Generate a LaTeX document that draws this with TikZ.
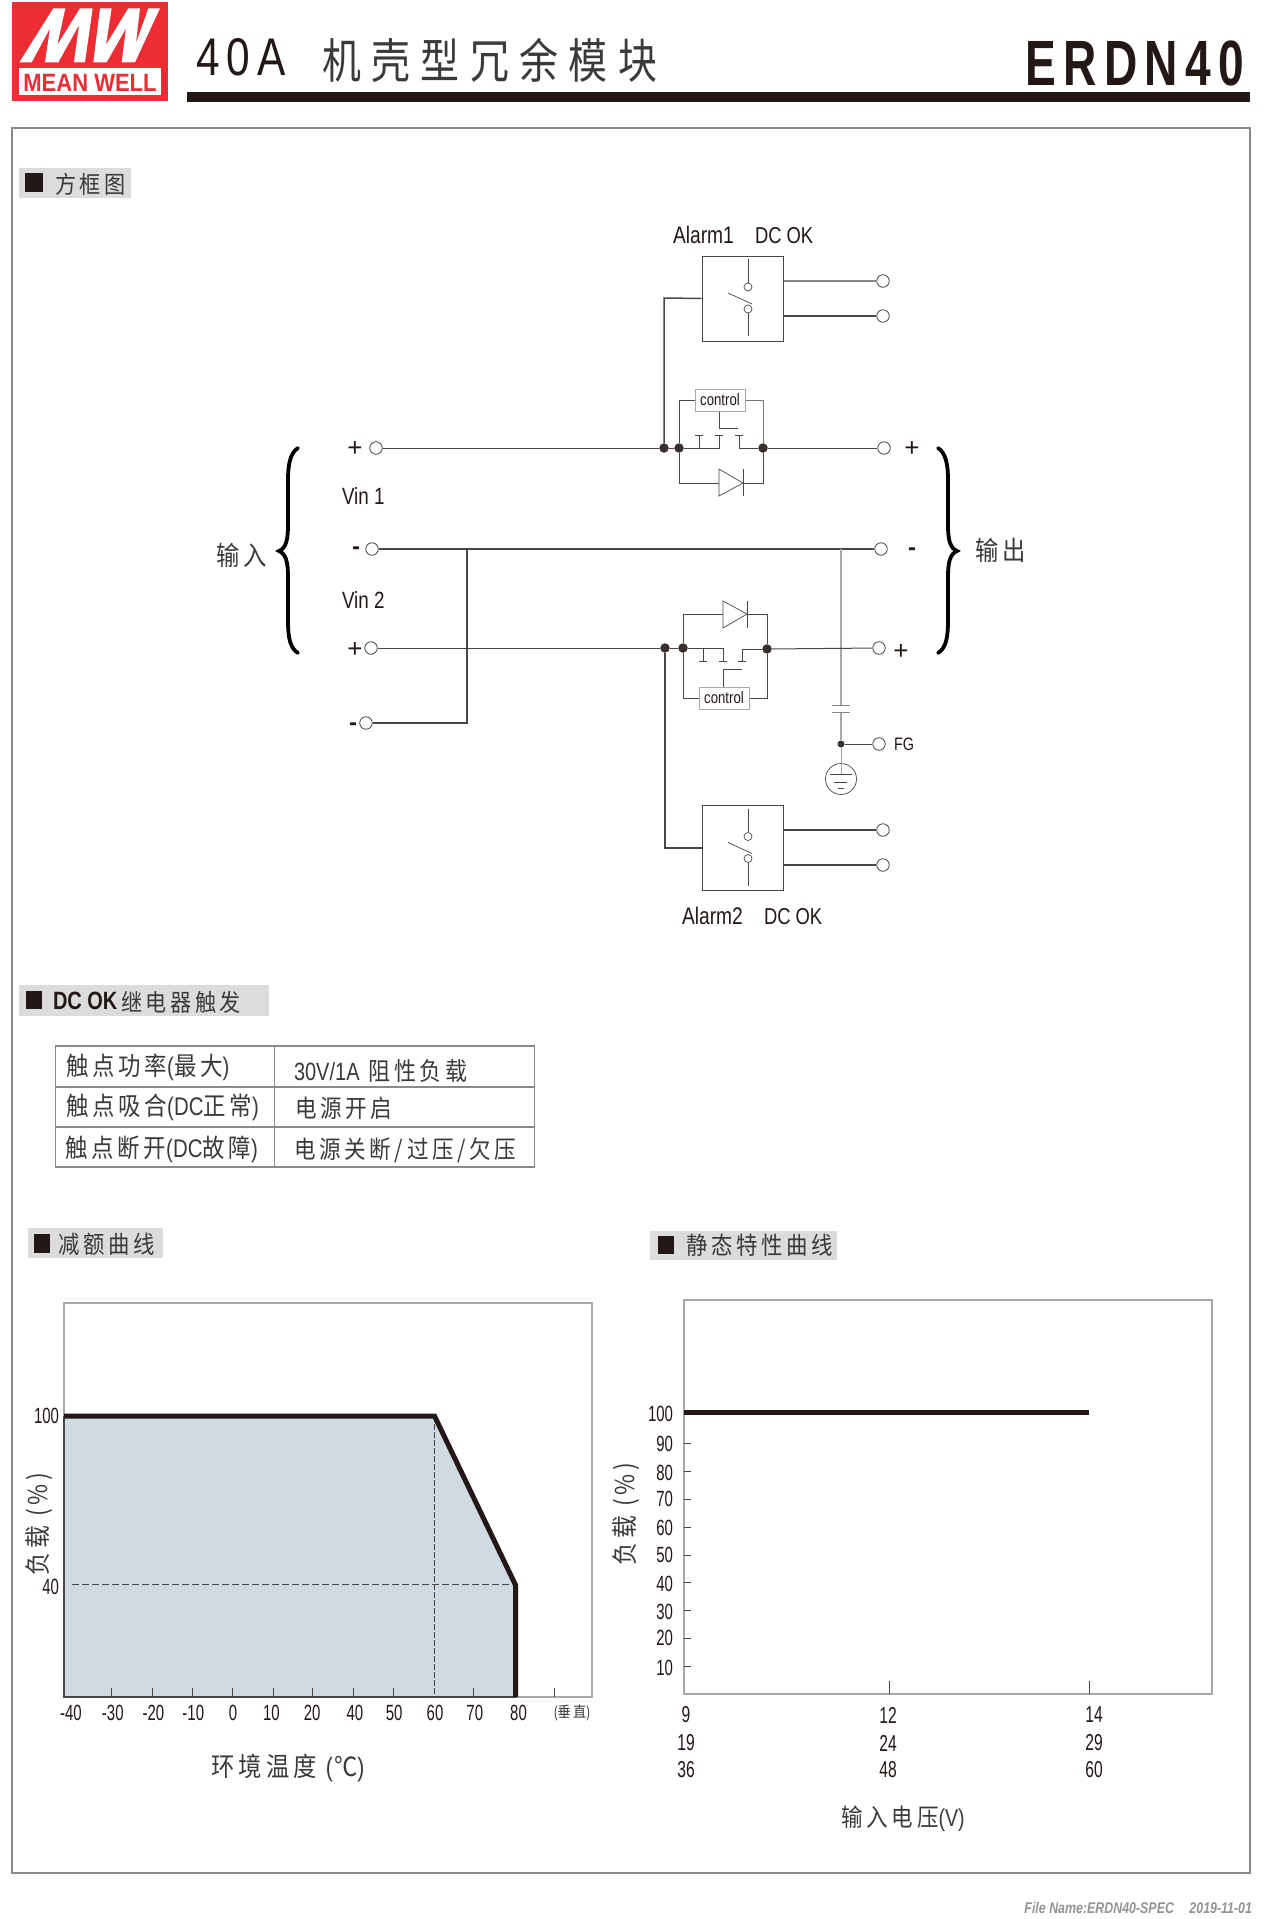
\documentclass[tikz,border=0pt]{standalone}
\usepackage{fontspec}
\setmainfont{Liberation Sans}
\newfontfamily\nar[FakeStretch=.8]{Liberation Sans}
\newfontfamily\logof[FakeStretch=.88]{Liberation Sans}
\newfontfamily\nard[FakeStretch=.68]{Liberation Sans}
\newfontfamily\erd[FakeStretch=.72,LetterSpace=11.5]{Liberation Sans}
\newfontfamily\fortyA[FakeStretch=.8,LetterSpace=14]{Liberation Sans}
\newfontfamily\cjkT[FakeStretch=.82,LetterSpace=22]{Noto Sans CJK SC}
\newfontfamily\cjkB[FakeStretch=.88,LetterSpace=15]{Noto Sans CJK SC}
\newcommand{\fs}[1]{\fontsize{#1}{#1}\selectfont}
\definecolor{wirec}{HTML}{4A4644}
\definecolor{lightw}{HTML}{A8A8A8}
\definecolor{framec}{HTML}{8A8A8A}
\definecolor{inkc}{HTML}{231815}
\definecolor{cjkc}{HTML}{3A3A3A}
\definecolor{mwred}{HTML}{EE2C34}
\definecolor{shadec}{HTML}{D0DAE2}
\definecolor{hdrbg}{HTML}{DCDCDC}
\tikzset{
 txt/.style={inner sep=0pt,outer sep=0pt,text=inkc},
 cj/.style={txt,text=cjkc},
 wire/.style={draw=wirec,line width=1pt},
 wireb/.style={draw=wirec,line width=1.5pt},
 wiregr/.style={draw=lightw,line width=1.4pt},
 term/.style={circle,draw=wirec,fill=white,line width=.8pt,inner sep=0pt,minimum size=12.5pt},
 dotj/.style={circle,fill=inkc!90!white,inner sep=0pt,minimum size=9.5pt},
 relbox/.style={draw=wirec,line width=1pt,minimum width=81pt,minimum height=85pt,inner sep=0pt,fill=white},
 ctrlbox/.style={draw=lightw,line width=1pt,minimum width=50pt,minimum height=22pt,inner sep=0pt,fill=white,text=inkc,font={\nar\fs{16.5}}},
 hdr/.style={fill=hdrbg},
 blk/.style={fill=inkc},
 brace/.style={draw=black,line width=3.8pt,line cap=round},
 thick line/.style={draw=inkc,line width=5pt},
 tick/.style={draw=wirec,line width=.7pt},
 dashln/.style={draw=wirec,line width=.7pt,dash pattern=on 7pt off 3pt},
 switchsym/.pic={
   \draw[wirec,line width=.7pt] (5.5,-39.5) -- (5.5,-16);
   \draw[wirec,line width=.7pt] (5.5,-11.5) circle[radius=4];
   \draw[wirec,line width=.7pt] (5.5,10.5) circle[radius=4];
   \draw[wirec,line width=.7pt] (-14.5,-5.5) -- (9.5,5.5);
   \draw[wirec,line width=.7pt] (5.5,14.5) -- (5.5,37.5);
 },
}
\begin{document}
\begin{tikzpicture}[x=1pt,y=-1pt]
\useasboundingbox (0,0) rectangle (1286,1919);
\fill[white] (0,0) rectangle (1286,1919);
% logo
\fill[mwred] (12,2) rectangle (168,101);
\fill[white] (19,68) rectangle (161,95);
\begin{scope}[x=.3333pt,y=-.3333pt]
\fill[white] (58,187)--(160,25)--(196,25)--(172,135)--(240,25)--(278,25)--(255,187)--(222,187)--(237,75)--(175,187)--(135,187)--(150,85)--(95,187)--cycle;
\fill[white] (300,25)--(335,25)--(318,135)--(385,25)--(420,25)--(408,130)--(445,25)--(480,25)--(405,187)--(365,187)--(378,85)--(320,187)--(280,187)--cycle;
\end{scope}
\node[txt,text=mwred,font={\logof\bfseries\fs{25}}] (logotext) at (90,82.5) {MEAN WELL};
% title
\node[txt,anchor=base west,font={\fortyA\fs{53}}] (t40a) at (196,76) {40A};
\node[cj,anchor=west,font={\cjkT\fs{47.5}}] (tcjk) at (322,60) {机壳型冗余模块};
\node[txt,anchor=base east,font={\erd\bfseries\fs{64}}] (terdn) at (1244,85) {ERDN40};
\fill[inkc] (187,92) rectangle (1250,102);
% frame
\draw[framec,line width=1.4pt] (12,128) rectangle (1250,1873);
% section header 1
\fill[hdr] (19,168) rectangle (131,198);
\fill[blk] (25,173) rectangle (43,192);
\node[cj,anchor=west,font={\cjkB\fs{24}}] (h1) at (55,184) {方框图};
% ---- circuit ----
\node[txt,anchor=base west,font={\nar\fs{24}}] (al1) at (673,243) {Alarm1};
\node[txt,anchor=base west,font={\nar\fs{23}}] (dc1) at (755,243) {DC OK};
\node[relbox] (rel1) at (742.5,298.5) {};
\pic at (742.5,298.5) {switchsym};
\node[term] (ta1) at (883,281) {};
\node[term] (ta2) at (883,316) {};
\draw[wire,draw=lightw!80!black,line width=1.3pt] (ta1.west) -- (ta1.west -| rel1.east);
\draw[wireb] (ta2.west) -- (ta2.west -| rel1.east);
% upper line
\node[term] (in1p) at (376,448) {};
\node[term] (out1p) at (884,448) {};
\node[dotj] (j1) at (664,448) {};
\node[dotj] (j2) at (679,448) {};
\node[dotj] (j3) at (763,448) {};
\draw[wire] (in1p) -- (j1) -- (j2);
\draw[wire] (j3) -- (out1p);
\coordinate (k1) at (664,298);
\draw[wireb] (j1) -- (k1) -- (rel1.west);
% upper contactor
\node[ctrlbox] (c1) at (720,400) {control};
\coordinate (c1l) at (679,400);
\coordinate (c1r) at (763,400);
\draw[wire] (j2) -- (c1l) -- (c1.west);
\draw[wire,draw=lightw!70!black] (c1.east) -- (c1r) -- (j3);
\coordinate (s1a) at (719,448);
\coordinate (s1b) at (739,448);
\draw[wire] (j2) -- (s1a) -- (719,435);
\draw[wire] (j3) -- (s1b) -- (739,435);
\draw[wire,line width=.8pt] (699,448) -- (699,435);
\draw[wire,line width=.8pt] (695,435) -- (703,435);
\draw[wire,line width=.8pt] (715,435) -- (723,435);
\draw[wire,line width=.8pt] (735,435) -- (743,435);
\draw[wire] (c1.south -| 719,0) -- (719,428);
\draw[wire] (719,428) -- (738,428);
% upper diode
\coordinate (d1a) at (719,483);
\coordinate (d1k) at (743,483);
\coordinate (d1l) at (679,483);
\coordinate (d1r) at (763,483);
\draw[wire] (j2) -- (d1l) -- (d1a);
\draw[wire] (d1k) -- (d1r) -- (j3);
\draw[wirec,line width=.7pt,fill=white] (719,469) -- (743,483) -- (719,496) -- cycle;
\draw[wirec,line width=.8pt] (743,469) -- (743,496);
\node[txt,font={\fs{26}}] (p1) at (912,449) {+};
% labels left
\node[txt,font={\fs{26}}] (pl1) at (355,449) {+};
\node[txt,anchor=base west,font={\nar\fs{23.5}}] (vin1) at (342,504) {Vin 1};
\node[term] (in1n) at (372,549) {};
\node[txt,font={\bfseries\fs{24}}] (ml1) at (356,551) {-};
\node[txt,anchor=base west,font={\nar\fs{23.5}}] (vin2) at (342,608) {Vin 2};
\node[term] (in2p) at (371,648) {};
\node[txt,font={\fs{26}}] (pl2) at (355,650) {+};
\node[term] (in2n) at (366,723) {};
\node[txt,font={\bfseries\fs{24}}] (ml2) at (353,727) {-};
\node[term] (out1n) at (881,549) {};
\node[txt,font={\bfseries\fs{24}}] (mr1) at (912,552) {-};
\draw[wireb] (in1n) -- (out1n);
\coordinate (n1) at (467,549);
\coordinate (n2) at (467,723);
\draw[wireb] (n1) -- (n2) -- (in2n);
% lower line
\node[term] (out2p) at (879,648) {};
\node[dotj] (j4) at (665,648) {};
\node[dotj] (j5) at (683,648) {};
\node[dotj] (j6) at (767,649) {};
\draw[wire] (in2p) -- (j4) -- (j5);
% FG branch
\node[dotj,minimum size=7pt] (jfg) at (841,744) {};
\node[term] (fg) at (879,744) {};
\coordinate (capa) at (841,705);
\coordinate (capb) at (841,712);
\coordinate (negt) at (841,549);
\draw[wiregr] (negt) -- (capa);
\draw[wiregr] (capb) -- (jfg);
\draw[lightw!80!black,line width=1pt] (832,705) -- (850,705);
\draw[lightw!80!black,line width=1pt] (832,712) -- (850,712);
\draw[wire] (jfg) -- (fg);
\draw[wire] (j6) -- (out2p);
\node[txt,font={\fs{26}}] (p2) at (901,652) {+};
\node[txt,anchor=west,font={\nar\fs{18}}] (fgt) at (894,744) {FG};
\node[circle,draw=wirec,line width=.7pt,inner sep=0pt,minimum size=31pt] (gnd) at (841,779) {};
\draw[wiregr,line width=1pt] (jfg) -- (841,774);
\draw[wirec,line width=.7pt] (830,774) -- (852,774);
\draw[wirec,line width=.7pt] (834,782) -- (847,782);
\draw[wirec,line width=.7pt] (838,788) -- (844,788);
% lower contactor
\node[ctrlbox] (c2) at (724,698) {control};
\coordinate (c2l) at (683,698);
\coordinate (c2r) at (767,698);
\draw[wire] (j5) -- (c2l) -- (c2.west);
\draw[wire] (c2.east) -- (c2r) -- (j6);
\coordinate (s2a) at (723,648);
\coordinate (s2b) at (742,649);
\draw[wire] (j5) -- (s2a) -- (723,661);
\draw[wire] (j6) -- (s2b) -- (742,661);
\draw[wire,line width=.8pt] (703,648) -- (703,661);
\draw[wire,line width=.8pt] (699,661) -- (707,661);
\draw[wire,line width=.8pt] (719,661) -- (727,661);
\draw[wire,line width=.8pt] (738,661) -- (746,661);
\draw[wire] (723,669) -- (742,669);
\draw[wire] (723,669) -- (723,687);
% lower diode
\coordinate (d2l) at (683,614);
\coordinate (d2r) at (767,614);
\draw[wire] (j5) -- (d2l) -- (723,614);
\draw[wire] (747,614) -- (d2r) -- (j6);
\draw[wirec,line width=.7pt,fill=white] (723,601) -- (747,614) -- (723,628) -- cycle;
\draw[wirec,line width=.8pt] (747,601) -- (747,628);
% lower relay
\node[relbox] (rel2) at (742.5,848) {};
\pic at (742.5,848) {switchsym};
\node[term] (tb1) at (883,830) {};
\node[term] (tb2) at (883,865) {};
\draw[wireb] (tb1.west) -- (tb1.west -| rel2.east);
\draw[wire,line width=1.2pt] (tb2.west) -- (tb2.west -| rel2.east);
\coordinate (k2) at (665,848);
\draw[wireb] (j4) -- (k2) -- (rel2.west);
\node[txt,anchor=base west,font={\nar\fs{24}}] (al2) at (682,924) {Alarm2};
\node[txt,anchor=base west,font={\nar\fs{23}}] (dc2) at (764,924) {DC OK};
% braces
\draw[brace] (298,448) .. controls (290,453) and (288,465) .. (288,480) -- (288,525) .. controls (288,540) and (286,548) .. (279,551) .. controls (286,554) and (288,562) .. (288,577) -- (288,620) .. controls (288,638) and (290,648) .. (298,653);
\draw[brace] (938,448) .. controls (946,453) and (948,465) .. (948,480) -- (948,525) .. controls (948,540) and (950,548) .. (957,551) .. controls (950,554) and (948,562) .. (948,577) -- (948,620) .. controls (948,638) and (946,648) .. (938,653);
\node[cj,anchor=west,font={\cjkB\fs{26.5}}] (inlab) at (216,555) {输入};
\node[cj,anchor=west,font={\cjkB\fs{26.5}}] (outlab) at (975,550) {输出};
% section header 2
\fill[hdr] (19,985) rectangle (269,1016);
\fill[blk] (26,991) rectangle (42,1009);
\node[txt,anchor=west,font={\nar\bfseries\fs{25}}] (h2a) at (53,1001) {DC OK};
\node[cj,anchor=west,font={\cjkB\fs{24}}] (h2b) at (121,1002) {继电器触发};
% table
\draw[framec,line width=1.4pt] (55.5,1046) rectangle (534.5,1167);
\draw[framec,line width=1.4pt] (55.5,1087) -- (534.5,1087);
\draw[framec,line width=1.4pt] (55.5,1127) -- (534.5,1127);
\draw[framec,line width=1.4pt] (274.5,1046) -- (274.5,1167);
\node[cj,anchor=west,font={\cjkB\fs{25.5}}] (r1l) at (66,1067) {触点功率{\nar(}最大{\nar)}};
\node[cj,anchor=west,font={\cjkB\fs{25.5}}] (r2l) at (66,1107) {触点吸合{\nar(DC}正常{\nar)}};
\node[cj,anchor=west,font={\cjkB\fs{25.5}}] (r3l) at (65,1149) {触点断开{\nar(DC}故障{\nar)}};
\node[cj,anchor=west,font={\cjkB\fs{25}}] (r1r) at (294,1071) {{\nar 30V/1A} 阻性负载};
\node[cj,anchor=west,font={\cjkB\fs{24.5}}] (r2r) at (295,1108) {电源开启};
\node[cj,anchor=west,font={\cjkB\fs{24.5}}] (r3r) at (294,1150) {电源关断/过压/欠压};
% section headers 3,4
\fill[hdr] (28,1228) rectangle (163,1258);
\fill[blk] (34,1234) rectangle (49.5,1253);
\node[cj,anchor=west,font={\cjkB\fs{24.3}}] (h3) at (58,1244) {减额曲线};
\fill[hdr] (650,1231) rectangle (837,1260);
\fill[blk] (658,1236) rectangle (674,1254);
\node[cj,anchor=west,font={\cjkB\fs{24.3}}] (h4) at (686,1245) {静态特性曲线};
% chart 1
\draw[lightw,line width=1.2pt] (64,1303) rectangle (592,1697);
\fill[shadec] (64,1416) -- (434.5,1416) -- (515.5,1583) -- (515.5,1697) -- (64,1697) -- cycle;
\draw[wirec,line width=1.2pt] (64,1416) -- (64,1697) -- (515.5,1697);
\foreach \xx in {111.8,152,192.3,232,272.9,312.7,353.4,393.7,473.8,554.3} \draw[tick] (\xx,1688) -- (\xx,1697);
\draw[dashln,dash pattern=on 6pt off 2pt] (434,1416) -- (434,1697);
\draw[dashln] (72,1584) -- (512,1584);
\draw[thick line,line join=miter] (64,1416) -- (434.5,1416) -- (515.5,1585) -- (515.5,1697);
\foreach \xx/\ll in {71/-40,112.8/-30,153.5/-20,193.3/-10,233.1/0,271.4/10,312.2/20,354.9/40,394.2/50,435/60,474.8/70,518.5/80}
  \node[txt,font={\nard\fs{22}}] at (\xx,1712.5) {\ll};
\node[cj,anchor=west,font={\fs{16}}] (vert) at (554,1713) {{\nard(}{\cjkB\fs{15}垂直}{\nard)}};
\node[txt,anchor=east,font={\nard\fs{22}}] (y100a) at (59,1416) {100};
\node[txt,anchor=east,font={\nard\fs{22}}] (y40a) at (59,1587) {40};
\node[cj,rotate=90,font={\cjkB\fs{26}}] (ylab1) at (39,1524) {负载 {\fs{26}(\%)}};
\node[cj,font={\cjkB\fs{26.5}}] (xlab1) at (288,1768) {环境温度 {\nar(}\kern1pt℃{\nar)}};
% chart 2
\draw[lightw,line width=1.4pt] (684,1300) rectangle (1212,1694);
\draw[thick line] (684,1412) -- (1089,1412);
\foreach \yy in {1443,1471,1499,1527,1555,1582,1610,1638,1666} \draw[tick] (684,\yy) -- (691,\yy);
\foreach \xx in {889,1089} \draw[tick] (\xx,1681) -- (\xx,1694);
\foreach \yy/\ll in {1414/100,1444/90,1473/80,1499/70,1528/60,1555/50,1584/40,1612/30,1638/20,1668/10}
  \node[txt,anchor=east,font={\nard\fs{22}}] at (673,\yy) {\ll};
\foreach \xx/\yy/\ll in {686/1715/9,686/1743/19,686/1770/36,888/1715/12,888/1743/24,888/1770/48,1094/1715/14,1094/1743/29,1094/1770/60}
  \node[txt,font={\nard\fs{23}}] at (\xx,\yy) {\ll};
\node[cj,rotate=90,font={\cjkB\fs{26}}] (ylab2) at (626,1514) {负载 {\fs{26}(\%)}};
\node[cj,font={\cjkB\fs{24.5}}] (xlab2) at (903,1819) {输入电压{\nar(V)}};
% footer
\node[txt,anchor=east,text=gray!85,font={\nar\itshape\bfseries\fs{15.5}}] (file) at (1252,1908) {File Name:ERDN40-SPEC\quad 2019-11-01};
\end{tikzpicture}
\end{document}
